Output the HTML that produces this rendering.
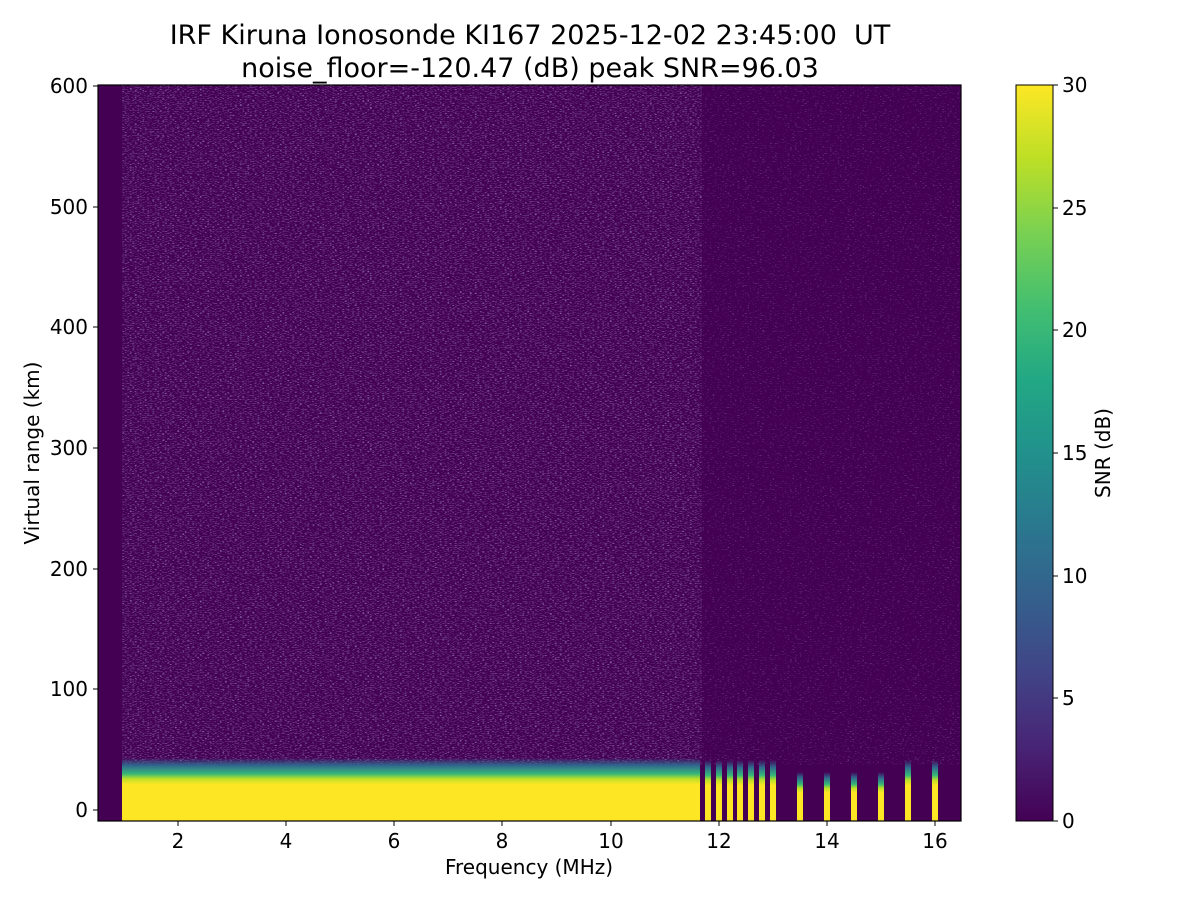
<!DOCTYPE html>
<html><head><style>body{margin:0;background:#fff}svg{display:block}</style></head><body>
<svg width="1200" height="900" xmlns="http://www.w3.org/2000/svg" font-family="DejaVu Sans, sans-serif">
<defs>
<linearGradient id="vir" x1="0" y1="1" x2="0" y2="0">
<stop offset="0" stop-color="#440154"/><stop offset="0.1" stop-color="#482475"/><stop offset="0.2" stop-color="#414487"/><stop offset="0.3" stop-color="#355f8d"/><stop offset="0.4" stop-color="#2a788e"/><stop offset="0.5" stop-color="#21918c"/><stop offset="0.6" stop-color="#22a884"/><stop offset="0.7" stop-color="#44bf70"/><stop offset="0.8" stop-color="#7ad151"/><stop offset="0.9" stop-color="#bddf26"/><stop offset="1" stop-color="#fde725"/>
</linearGradient>
<filter id="nz" x="0" y="0" width="1" height="1"><feTurbulence type="fractalNoise" baseFrequency="0.4 1.5" numOctaves="1" seed="3"/><feColorMatrix type="matrix" values="0 0 0 0 0.28  0 0 0 0 0.16  0 0 0 0 0.45  0 0 0 4 -2.1"/></filter>
<filter id="nz2" x="0" y="0" width="1" height="1"><feTurbulence type="fractalNoise" baseFrequency="0.4 1.5" numOctaves="1" seed="7"/><feColorMatrix type="matrix" values="0 0 0 0 0.28  0 0 0 0 0.16  0 0 0 0 0.45  0 0 0 4 -2.5"/></filter>
<linearGradient id="band" x1="0" y1="0" x2="0" y2="1">
<stop offset="0" stop-color="#31688e" stop-opacity="0"/><stop offset="0.12" stop-color="#31688e"/><stop offset="0.25" stop-color="#35b779"/><stop offset="0.33" stop-color="#bddf26"/><stop offset="0.42" stop-color="#fde725"/><stop offset="1" stop-color="#fde725"/>
</linearGradient>
</defs>
<rect x="98" y="85" width="863" height="736" fill="#440154"/>
<rect x="122" y="85" width="580" height="680" filter="url(#nz)"/>
<rect x="702" y="85" width="259" height="680" filter="url(#nz2)"/>
<rect x="122" y="758" width="578" height="63" fill="url(#band)"/>
<g fill="url(#band)">
<rect x="705" y="760" width="6" height="61"/><rect x="716" y="760" width="6" height="61"/><rect x="727" y="760" width="6" height="61"/><rect x="737" y="760" width="6" height="61"/><rect x="748" y="760" width="6" height="61"/><rect x="759" y="760" width="6" height="61"/><rect x="770" y="760" width="6" height="61"/>
<rect x="797" y="772" width="6" height="49"/><rect x="824" y="772" width="6" height="49"/><rect x="851" y="772" width="6" height="49"/><rect x="878" y="772" width="6" height="49"/><rect x="905" y="760" width="6" height="61"/><rect x="932" y="760" width="6" height="61"/>
</g>
<rect x="98" y="85" width="863" height="736" fill="none" stroke="#000" stroke-width="1.2"/>
<g stroke="#000" stroke-width="1">
<line x1="178" y1="821" x2="178" y2="826"/><line x1="286" y1="821" x2="286" y2="826"/><line x1="394" y1="821" x2="394" y2="826"/><line x1="502" y1="821" x2="502" y2="826"/><line x1="611" y1="821" x2="611" y2="826"/><line x1="719" y1="821" x2="719" y2="826"/><line x1="827" y1="821" x2="827" y2="826"/><line x1="935" y1="821" x2="935" y2="826"/>
<line x1="93" y1="810" x2="98" y2="810"/><line x1="93" y1="689" x2="98" y2="689"/><line x1="93" y1="569" x2="98" y2="569"/><line x1="93" y1="448" x2="98" y2="448"/><line x1="93" y1="327" x2="98" y2="327"/><line x1="93" y1="207" x2="98" y2="207"/><line x1="93" y1="86" x2="98" y2="86"/>
</g>
<g font-size="20" text-anchor="middle">
<text x="178" y="848">2</text><text x="286" y="848">4</text><text x="394" y="848">6</text><text x="502" y="848">8</text><text x="611" y="848">10</text><text x="719" y="848">12</text><text x="827" y="848">14</text><text x="935" y="848">16</text>
<text x="529" y="874">Frequency (MHz)</text>
</g>
<g font-size="20" text-anchor="end">
<text x="88" y="817">0</text><text x="88" y="696">100</text><text x="88" y="576">200</text><text x="88" y="455">300</text><text x="88" y="334">400</text><text x="88" y="214">500</text><text x="88" y="93">600</text>
</g>
<text transform="translate(39,453) rotate(-90)" font-size="20" text-anchor="middle">Virtual range (km)</text>
<g font-size="27" text-anchor="middle"><text x="530" y="44">IRF Kiruna Ionosonde KI167 2025-12-02 23:45:00&#160; UT</text><text x="530" y="77">noise_floor=-120.47 (dB) peak SNR=96.03</text></g>
<rect x="1016" y="85" width="37" height="736" fill="url(#vir)" stroke="#000" stroke-width="1"/>
<g stroke="#000"><line x1="1053" y1="821" x2="1058" y2="821"/><line x1="1053" y1="698" x2="1058" y2="698"/><line x1="1053" y1="576" x2="1058" y2="576"/><line x1="1053" y1="453" x2="1058" y2="453"/><line x1="1053" y1="330" x2="1058" y2="330"/><line x1="1053" y1="208" x2="1058" y2="208"/><line x1="1053" y1="85" x2="1058" y2="85"/></g>
<g font-size="20"><text x="1062" y="828">0</text><text x="1062" y="705">5</text><text x="1062" y="583">10</text><text x="1062" y="460">15</text><text x="1062" y="337">20</text><text x="1062" y="215">25</text><text x="1062" y="92">30</text></g>
<text transform="translate(1110,453) rotate(-90)" font-size="20" text-anchor="middle">SNR (dB)</text>
</svg>
</body></html>
